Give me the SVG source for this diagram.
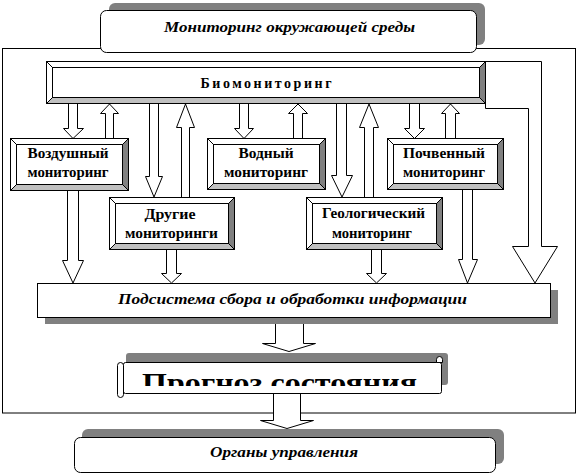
<svg xmlns="http://www.w3.org/2000/svg" width="578" height="474" viewBox="0 0 578 474">
<style>
.ln{fill:#fff;stroke:#000;stroke-width:1}
.sh{fill:#808080}
.dk{fill:#808080;stroke:#000;stroke-width:1}
.lt{fill:#c0c0c0;stroke:#000;stroke-width:1}
.cl{stroke:#000;stroke-width:1;fill:none}
.t{font-family:"Liberation Serif","Times New Roman",serif;font-weight:bold;font-size:14px;fill:#000;text-anchor:middle}
.ti{font-family:"Liberation Serif","Times New Roman",serif;font-weight:bold;font-style:italic;font-size:15px;fill:#000;text-anchor:middle}
</style>
<defs>
<clipPath id="pc"><rect x="120" y="365" width="320" height="21"/></clipPath>
</defs>
<rect width="578" height="474" fill="#fff"/>
<rect id="frame" class="ln" x="2.5" y="48.5" width="573" height="364.5" fill="none"/>

<g id="env">
<rect class="sh" x="109" y="3" width="376" height="42" rx="6"/>
<rect class="ln" x="100.5" y="10.5" width="376" height="42" rx="6"/>
<text class="ti" x="289.5" y="32" textLength="251" lengthAdjust="spacingAndGlyphs">Мониторинг окружающей среды</text>
</g>

<g id="connectors">
<polygon class="ln" points="485.5,61.5 541.5,61.5 541.5,246.5 557.5,246.5 535,283 512.5,246.5 528.5,246.5 528.5,108.5 485.5,108.5"/>
<polygon class="ln" points="68.5,103.5 77.5,103.5 77.5,128.5 83.5,128.5 73,138.5 63.5,128.5 68.5,128.5"/>
<polygon class="ln" points="105.5,138.5 113.5,138.5 113.5,113.5 118.5,113.5 109.5,104 100.5,113.5 105.5,113.5"/>
<polygon class="ln" points="149.5,103.5 158.5,103.5 158.5,176.5 162.5,176.5 154,197 145.5,176.5 149.5,176.5"/>
<polygon class="ln" points="181.5,197.5 189.5,197.5 189.5,127.5 194.5,127.5 185.5,104 176.5,127.5 181.5,127.5"/>
<polygon class="ln" points="239.5,103.5 248.5,103.5 248.5,128.5 253.5,128.5 244,138.5 234.5,128.5 239.5,128.5"/>
<polygon class="ln" points="293.5,138.5 302.5,138.5 302.5,113.5 307.5,113.5 298,104 288.5,113.5 293.5,113.5"/>
<polygon class="ln" points="336.5,103.5 346.5,103.5 346.5,175.5 352.5,175.5 342,197 331.5,175.5 336.5,175.5"/>
<polygon class="ln" points="364.5,197.5 373.5,197.5 373.5,127.5 378.5,127.5 369,104 359.5,127.5 364.5,127.5"/>
<polygon class="ln" points="409.5,103.5 419.5,103.5 419.5,128.5 424.5,128.5 414.5,138.5 404.5,128.5 409.5,128.5"/>
<polygon class="ln" points="445.5,138.5 455.5,138.5 455.5,113.5 459.5,113.5 450.5,104 441.5,113.5 445.5,113.5"/>
<polygon class="ln" points="67.5,190.5 78.5,190.5 78.5,260.5 83.5,260.5 73,283 62.5,260.5 67.5,260.5"/>
<polygon class="ln" points="166.5,249.5 176.5,249.5 176.5,273.5 181.5,273.5 171.5,283 161.5,273.5 166.5,273.5"/>
<polygon class="ln" points="371.5,249.5 381.5,249.5 381.5,273.5 386.5,273.5 376.5,283 366.5,273.5 371.5,273.5"/>
<polygon class="ln" points="462.5,189.5 472.5,189.5 472.5,259.5 477.5,259.5 467.5,283 458.5,259.5 462.5,259.5"/>
<polygon class="ln" points="275.5,317.5 303.5,317.5 303.5,343.5 315.5,343.5 289,351.5 262.5,343.5 275.5,343.5"/>
<polygon class="ln" points="273.5,393.5 300.5,393.5 300.5,420.5 313.5,420.5 287,428.5 260.5,420.5 273.5,420.5"/>
</g>

<g id="bio">
<rect class="ln" x="46.5" y="61.5" width="439" height="42"/>
<polygon class="dk" points="485.5,61.5 485.5,103.5 479.5,97.5 479.5,67.5"/>
<polygon class="lt" points="46.5,103.5 485.5,103.5 479.5,97.5 52.5,97.5"/>
<path class="cl" d="M46.5,61.5L52.5,67.5M485.5,61.5L479.5,67.5"/>
<rect class="ln" x="52.5" y="67.5" width="427" height="30"/>
<text class="t" x="266" y="88" font-size="13" textLength="131" lengthAdjust="spacing">Биомониторинг</text>
</g>

<g id="air">
<rect class="ln" x="10.5" y="138.5" width="118" height="52"/>
<polygon class="dk" points="128.5,138.5 128.5,190.5 122.5,184.5 122.5,144.5"/>
<polygon class="lt" points="10.5,190.5 128.5,190.5 122.5,184.5 16.5,184.5"/>
<path class="cl" d="M10.5,138.5L16.5,144.5M128.5,138.5L122.5,144.5"/>
<rect class="ln" x="16.5" y="144.5" width="106" height="40"/>
<text class="t" x="68" y="158" textLength="81" lengthAdjust="spacingAndGlyphs">Воздушный</text>
<text class="t" x="68" y="177" textLength="81" lengthAdjust="spacingAndGlyphs">мониторинг</text>
</g>

<g id="water">
<rect class="ln" x="207.5" y="138.5" width="118" height="51"/>
<polygon class="dk" points="325.5,138.5 325.5,189.5 319.5,183.5 319.5,144.5"/>
<polygon class="lt" points="207.5,189.5 325.5,189.5 319.5,183.5 213.5,183.5"/>
<path class="cl" d="M207.5,138.5L213.5,144.5M325.5,138.5L319.5,144.5"/>
<rect class="ln" x="213.5" y="144.5" width="106" height="39"/>
<text class="t" x="266" y="158" textLength="55" lengthAdjust="spacingAndGlyphs">Водный</text>
<text class="t" x="266" y="177" textLength="84" lengthAdjust="spacingAndGlyphs">мониторинг</text>
</g>

<g id="soil">
<rect class="ln" x="387.5" y="138.5" width="116" height="51"/>
<polygon class="dk" points="503.5,138.5 503.5,189.5 497.5,183.5 497.5,144.5"/>
<polygon class="lt" points="387.5,189.5 503.5,189.5 497.5,183.5 393.5,183.5"/>
<path class="cl" d="M387.5,138.5L393.5,144.5M503.5,138.5L497.5,144.5"/>
<rect class="ln" x="393.5" y="144.5" width="104" height="39"/>
<text class="t" x="444" y="158" textLength="82" lengthAdjust="spacingAndGlyphs">Почвенный</text>
<text class="t" x="444" y="177" textLength="82" lengthAdjust="spacingAndGlyphs">мониторинг</text>
</g>

<g id="other">
<rect class="ln" x="109.5" y="197.5" width="125" height="52"/>
<polygon class="dk" points="234.5,197.5 234.5,249.5 228.5,243.5 228.5,203.5"/>
<polygon class="lt" points="109.5,249.5 234.5,249.5 228.5,243.5 115.5,243.5"/>
<path class="cl" d="M109.5,197.5L115.5,203.5M234.5,197.5L228.5,203.5"/>
<rect class="ln" x="115.5" y="203.5" width="113" height="40"/>
<text class="t" x="170" y="219" textLength="51" lengthAdjust="spacingAndGlyphs">Другие</text>
<text class="t" x="171.5" y="238" textLength="93" lengthAdjust="spacingAndGlyphs">мониторинги</text>
</g>

<g id="geo">
<rect class="ln" x="306.5" y="197.5" width="136" height="52"/>
<polygon class="dk" points="442.5,197.5 442.5,249.5 436.5,243.5 436.5,203.5"/>
<polygon class="lt" points="306.5,249.5 442.5,249.5 436.5,243.5 312.5,243.5"/>
<path class="cl" d="M306.5,197.5L312.5,203.5M442.5,197.5L436.5,203.5"/>
<rect class="ln" x="312.5" y="203.5" width="124" height="40"/>
<text class="t" x="373.5" y="218" textLength="103" lengthAdjust="spacingAndGlyphs">Геологический</text>
<text class="t" x="372" y="238" textLength="80" lengthAdjust="spacingAndGlyphs">мониторинг</text>
</g>

<g id="sub">
<rect class="sh" x="45" y="290" width="513" height="34"/>
<rect class="ln" x="37.5" y="283.5" width="513" height="34"/>
<text class="ti" x="292.5" y="304" textLength="349" lengthAdjust="spacingAndGlyphs">Подсистема сбора и обработки информации</text>
</g>

<g id="forecast">
<rect class="sh" x="126" y="353" width="322" height="32" rx="3"/>
<rect class="ln" x="123.5" y="362.5" width="318" height="31" rx="2"/>
<rect class="ln" x="117.5" y="362.5" width="6" height="35" rx="3"/>
<path class="ln" d="M436.5,362.5V359.5A3,3 0 0 1 442.5,359.5V362.5Z"/>
<text clip-path="url(#pc)" x="142" y="391.5" font-family="'Liberation Serif','Times New Roman',serif" font-weight="bold" font-size="28" textLength="275" lengthAdjust="spacingAndGlyphs">Прогноз состояния</text>
</g>

<g id="gov">
<rect class="sh" x="82" y="429" width="422" height="35" rx="6"/>
<rect class="ln" x="74.5" y="437.5" width="421" height="35" rx="6"/>
<text class="ti" x="284" y="457" textLength="148" lengthAdjust="spacingAndGlyphs">Органы управления</text>
</g>
</svg>
